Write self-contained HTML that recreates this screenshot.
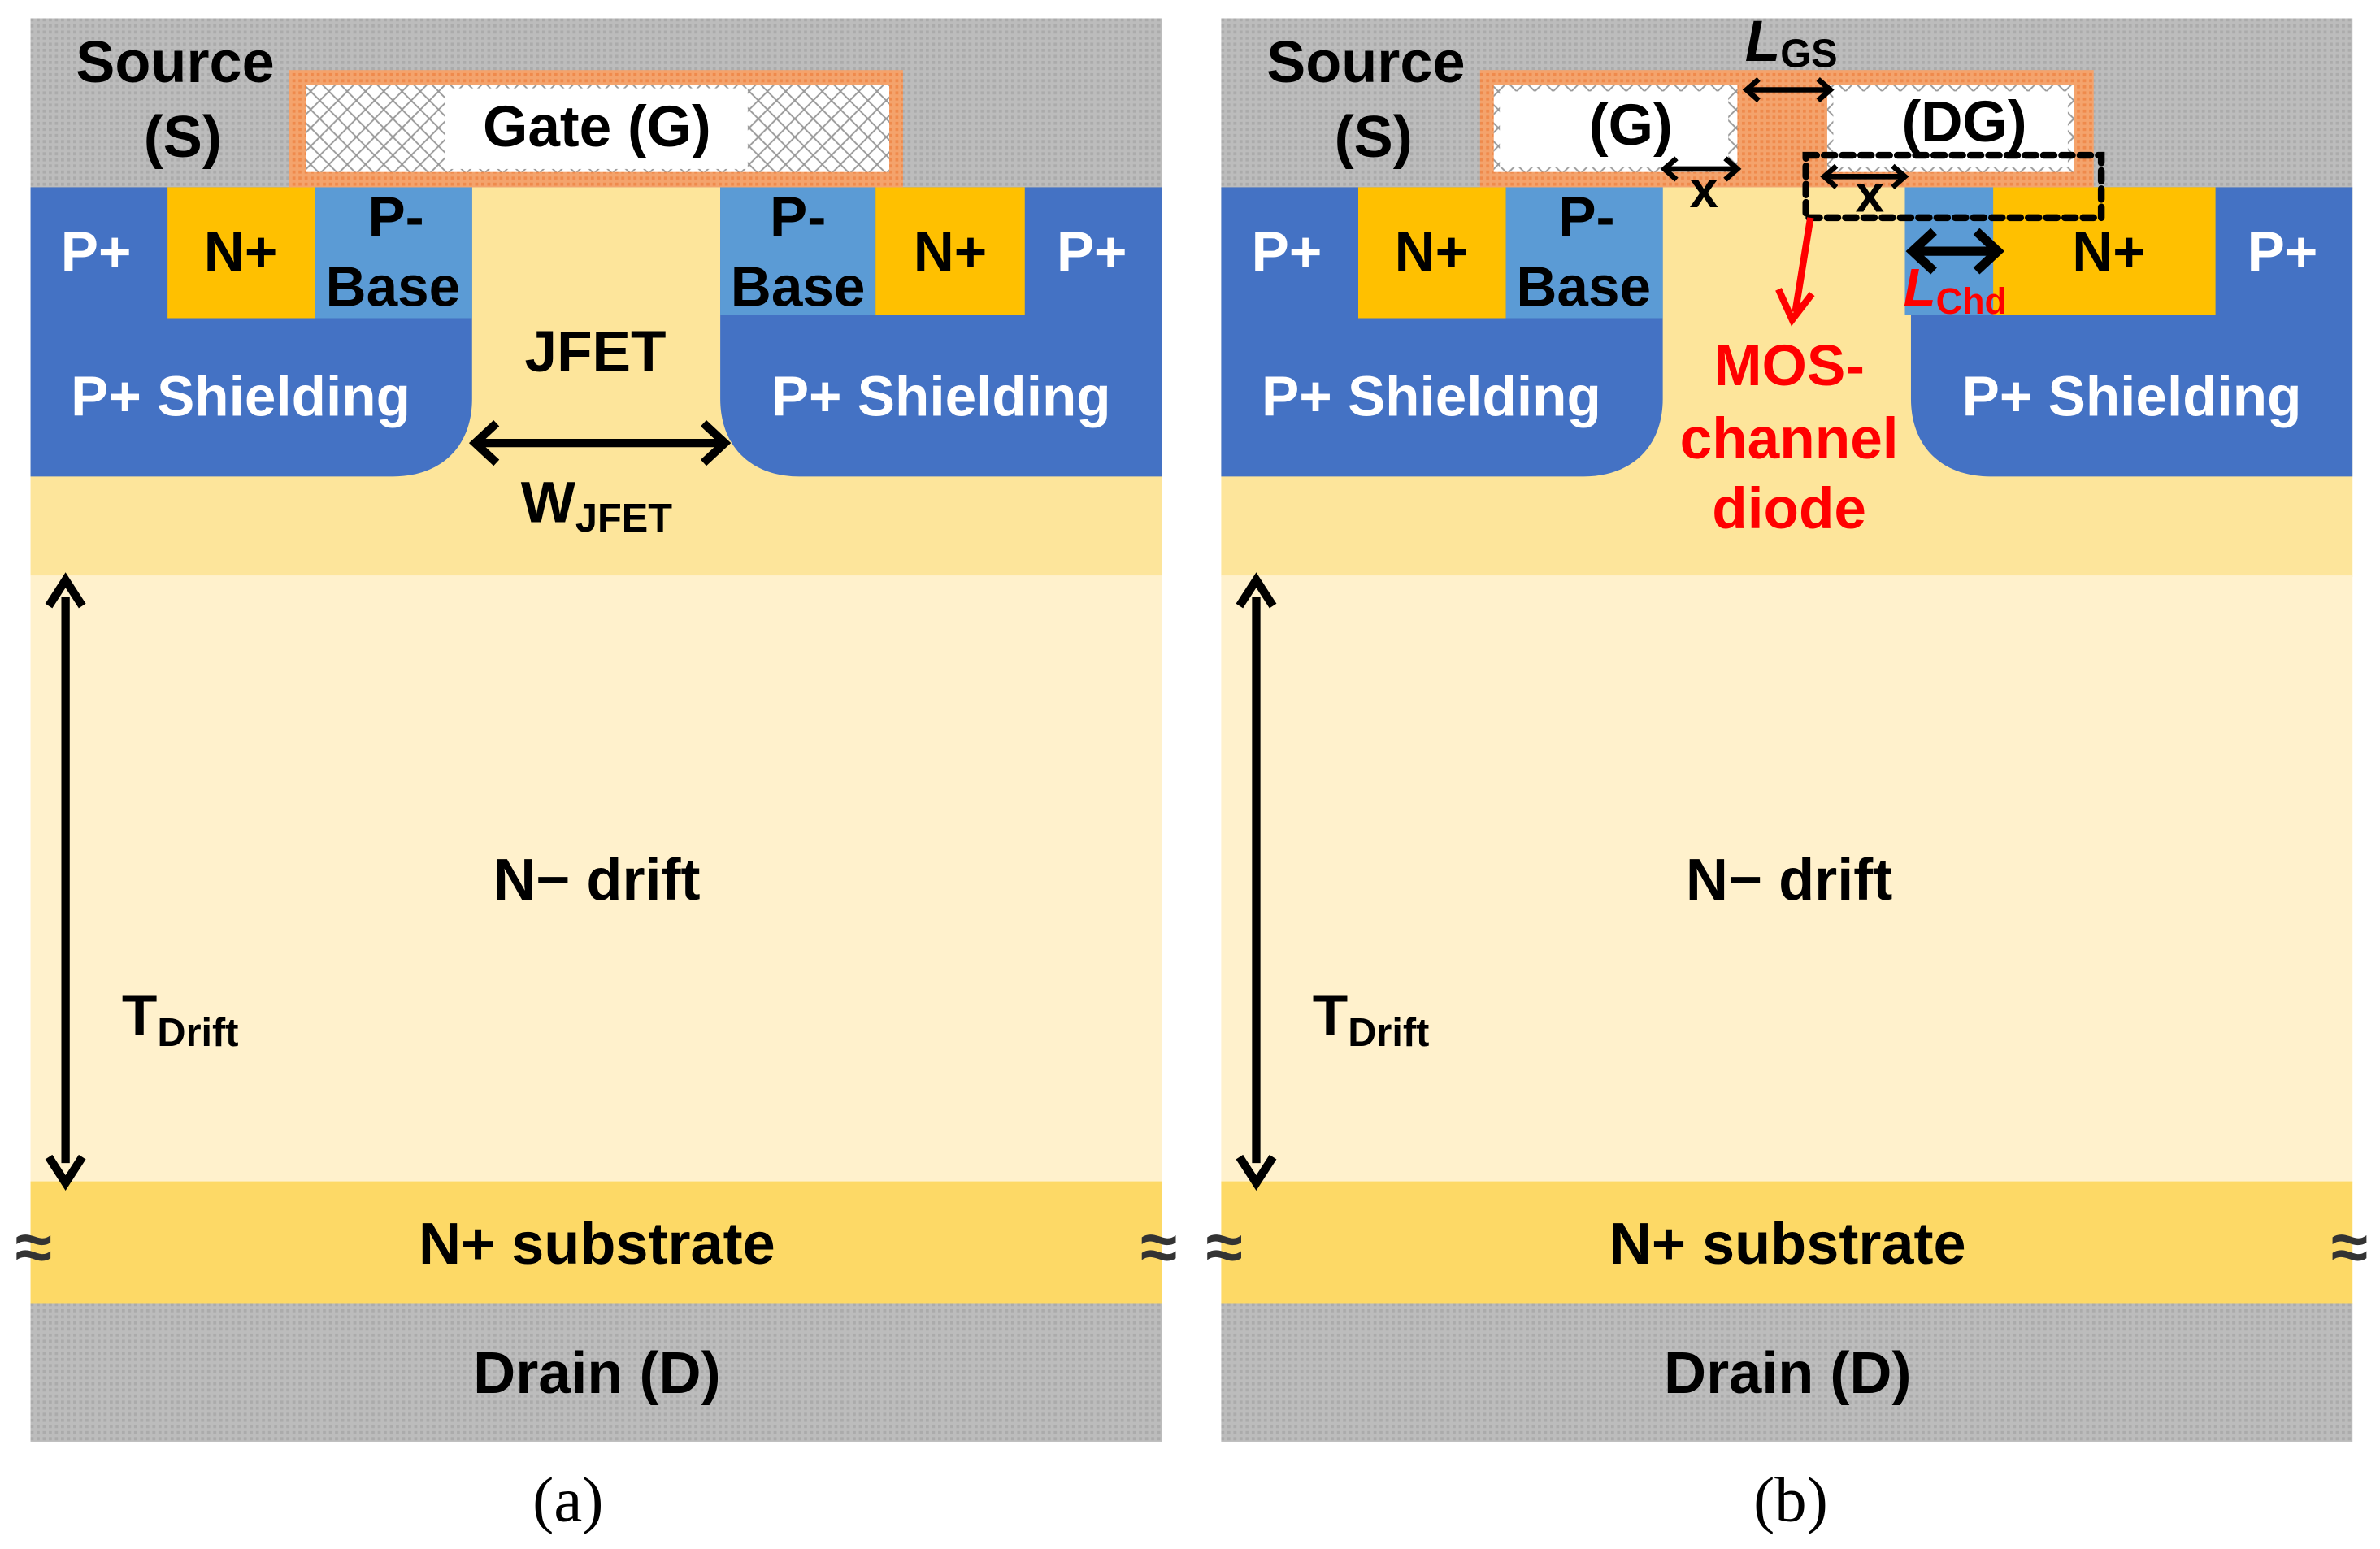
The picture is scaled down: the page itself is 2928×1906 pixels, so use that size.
<!DOCTYPE html>
<html><head><meta charset="utf-8"><style>
html,body{margin:0;padding:0;background:#fff}
svg{display:block}
text{font-family:"Liberation Sans",Arial,sans-serif;font-weight:bold}
</style></head><body>
<svg width="2928" height="1906" viewBox="0 0 1563 1017.5" xmlns="http://www.w3.org/2000/svg">
<defs>
<pattern id="gray" width="4" height="4" patternUnits="userSpaceOnUse">
<rect width="4" height="4" fill="#bcbcbc"/><rect width="2" height="2" fill="#ababab"/></pattern>
<pattern id="orange" width="4" height="4" patternUnits="userSpaceOnUse">
<rect width="4" height="4" fill="#f4a36c"/><rect width="2" height="2" fill="#ef8a4c"/></pattern>
<pattern id="hatch" width="12" height="12" patternUnits="userSpaceOnUse">
<rect width="12" height="12" fill="#fff"/><path d="M0,0L12,12M12,0L0,12" stroke="#999" stroke-width="1"/></pattern>
<g id="base">
<rect x="20" y="12" width="743" height="112" fill="url(#gray)"/>
<rect x="20" y="123" width="743" height="256" fill="#fde59b"/>
<rect x="20" y="378" width="743" height="399" fill="#fff1cc"/>
<rect x="20" y="776" width="743" height="81" fill="#fdd966"/>
<rect x="20" y="856" width="743" height="91" fill="url(#gray)"/>
<path d="M20,123H310V262C310,293 290,313 258,313H20Z" fill="#4472c4"/>
<path d="M473,123H763V313H525C493,313 473,293 473,262Z" fill="#4472c4"/>
<rect x="110" y="123" width="97" height="86" fill="#ffc000"/>
<rect x="207" y="123" width="103" height="86" fill="#5b9bd5"/>
<rect x="473" y="123" width="102" height="84" fill="#5b9bd5"/>
<rect x="575" y="123" width="98" height="84" fill="#ffc000"/>
<text x="115" y="54" font-size="38.5" text-anchor="middle">Source</text>
<text x="120" y="103" font-size="38.5" text-anchor="middle">(S)</text>
<text x="63" y="178" font-size="37" fill="#fff" text-anchor="middle">P+</text>
<text x="158" y="178" font-size="37" text-anchor="middle">N+</text>
<text x="717" y="178" font-size="37" fill="#fff" text-anchor="middle">P+</text>
<text x="158" y="273" font-size="37" fill="#fff" text-anchor="middle">P+ Shielding</text>
<text x="618" y="273" font-size="37" fill="#fff" text-anchor="middle">P+ Shielding</text>
<line x1="43" y1="392" x2="43" y2="764" stroke="#000" stroke-width="5.5"/>
<path d="M32,398L43,381L54,398M32,760L43,777L54,760" fill="none" stroke="#000" stroke-width="5.5" stroke-linejoin="miter"/>
<text x="80" y="680" font-size="38">T<tspan font-size="26" dy="7">Drift</tspan></text>
<text x="392" y="830" font-size="38.5" text-anchor="middle">N+ substrate</text>
<text x="392" y="915" font-size="38.5" text-anchor="middle">Drain (D)</text>
<text x="22" y="834" font-size="44" fill="#333" text-anchor="middle">≈</text>
<text x="761" y="834" font-size="44" fill="#333" text-anchor="middle">≈</text>
</g>
</defs>

<!-- Panel a -->
<use href="#base"/>
<rect x="190" y="46" width="403" height="77" fill="url(#orange)"/>
<rect x="201" y="56" width="383" height="57" fill="url(#hatch)"/>
<rect x="292" y="58" width="199" height="53" fill="#fff"/>
<text x="392" y="96" font-size="38" text-anchor="middle">Gate (G)</text>
<text x="260" y="155" font-size="37" text-anchor="middle">P-</text>
<text x="258" y="201" font-size="37" text-anchor="middle">Base</text>
<text x="524" y="155" font-size="37" text-anchor="middle">P-</text>
<text x="524" y="201" font-size="37" text-anchor="middle">Base</text>
<text x="624" y="178" font-size="37" text-anchor="middle">N+</text>
<text x="391" y="244" font-size="38" text-anchor="middle">JFET</text>
<line x1="314" y1="291" x2="474" y2="291" stroke="#000" stroke-width="5.5"/>
<path d="M326,278L312,291L326,304M462,278L476,291L462,304" fill="none" stroke="#000" stroke-width="5.5"/>
<text x="342" y="343" font-size="38">W<tspan font-size="26" dy="6">JFET</tspan></text>
<text x="392" y="591" font-size="38.5" text-anchor="middle">N−  drift</text>
<text x="373" y="999" font-size="42" text-anchor="middle" style="font-family:'Liberation Serif',serif;font-weight:normal">(a)</text>

<!-- Panel b -->
<g transform="translate(782,0)">
<use href="#base"/>
</g>
<rect x="1251" y="123" width="58" height="84" fill="#5b9bd5"/>
<rect x="1309" y="123" width="143" height="84" fill="#ffc000"/>
<rect x="972" y="46" width="403" height="77" fill="url(#orange)"/>
<rect x="981" y="56" width="160" height="57" fill="url(#hatch)"/>
<rect x="985" y="60" width="150" height="50" fill="#fff"/>
<rect x="1200" y="56" width="162" height="57" fill="url(#hatch)"/>
<rect x="1204" y="60" width="154" height="50" fill="#fff"/>
<text x="1071" y="95" font-size="38" text-anchor="middle">(G)</text>
<text x="1290" y="93" font-size="38" text-anchor="middle">(DG)</text>
<text x="1042" y="155" font-size="37" text-anchor="middle">P-</text>
<text x="1040" y="201" font-size="37" text-anchor="middle">Base</text>
<text x="1385" y="178" font-size="37" text-anchor="middle">N+</text>
<text x="1146" y="40" font-size="38" font-style="italic">L<tspan font-size="26" font-style="normal" dy="4">GS</tspan></text>
<line x1="1147" y1="59" x2="1202" y2="59" stroke="#000" stroke-width="3.5"/>
<path d="M1155,52L1147,59L1155,66M1194,52L1202,59L1194,66" fill="none" stroke="#000" stroke-width="3.5"/>
<line x1="1093" y1="111" x2="1141" y2="111" stroke="#000" stroke-width="3.5"/>
<path d="M1101,104L1093,111L1101,118M1133,104L1141,111L1133,118" fill="none" stroke="#000" stroke-width="3.5"/>
<text x="1119" y="136" font-size="34" text-anchor="middle">x</text>
<line x1="1198" y1="116" x2="1251" y2="116" stroke="#000" stroke-width="3.5"/>
<path d="M1206,109L1198,116L1206,123M1243,109L1251,116L1243,123" fill="none" stroke="#000" stroke-width="3.5"/>
<text x="1228" y="139" font-size="34" text-anchor="middle">x</text>
<rect x="1186" y="102" width="194" height="41" fill="none" stroke="#000" stroke-width="4.5" stroke-dasharray="7,5" stroke-linecap="round"/>
<line x1="1189" y1="143" x2="1179" y2="205" stroke="#f00" stroke-width="4.5"/>
<path d="M1168,190L1177,210L1190,193" fill="none" stroke="#f00" stroke-width="4.5"/>
<line x1="1257" y1="165" x2="1311" y2="165" stroke="#000" stroke-width="6"/>
<path d="M1270,152L1256,165L1270,178M1298,152L1312,165L1298,178" fill="none" stroke="#000" stroke-width="6"/>
<text x="1250" y="201" font-size="35" fill="#f00" font-style="italic">L<tspan font-size="24" font-style="normal" dy="5">Chd</tspan></text>
<text x="1175" y="253" font-size="38" fill="#f00" text-anchor="middle">MOS-</text>
<text x="1175" y="301" font-size="38" fill="#f00" text-anchor="middle">channel</text>
<text x="1175" y="347" font-size="38" fill="#f00" text-anchor="middle">diode</text>
<text x="1175" y="591" font-size="38.5" text-anchor="middle">N− drift</text>
<text x="1176" y="999" font-size="42" text-anchor="middle" style="font-family:'Liberation Serif',serif;font-weight:normal">(b)</text>
</svg>
</body></html>
